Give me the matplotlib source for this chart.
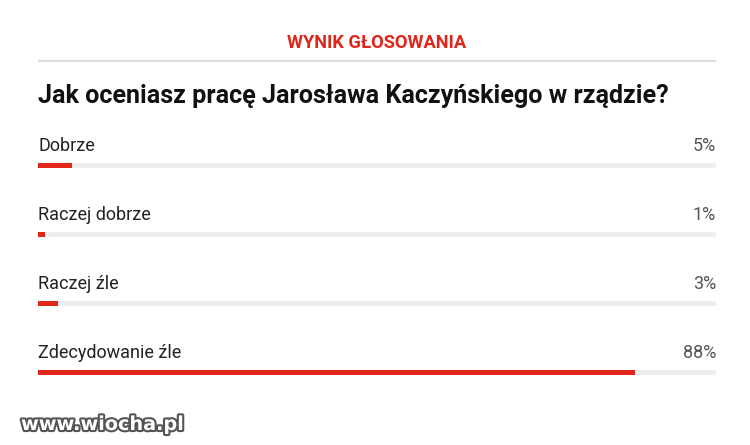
import matplotlib
matplotlib.use("Agg")
import matplotlib.pyplot as plt
import matplotlib.patheffects as pe

header = "WYNIK GŁOSOWANIA"
question = "Jak oceniasz pracę Jarosława Kaczyńskiego w rządzie?"
answers = ["Dobrze", "Raczej dobrze", "Raczej źle", "Zdecydowanie źle"]
percents = [5, 1, 3, 88]
watermark = "www.wiocha.pl"

W, H = 750, 445
fig = plt.figure(figsize=(7.5, 4.45), dpi=100)
fig.patch.set_facecolor("white")
renderer = fig.canvas.get_renderer()


def px(x, y):
    return x / W, 1 - y / H


def fit(t, width_px):
    # shrink a text so it spans width_px (the reference uses a condensed face)
    w = t.get_window_extent(renderer).width
    t.set_fontsize(t.get_fontsize() * width_px / w)


# bars: axes spans the track width, y in pixels from the top
ax = fig.add_axes([38 / W, 0, 678 / W, 1])
ax.set_xlim(0, 100)
ax.set_ylim(H, 0)
ax.axis("off")

red = "#df2619"
first_y, step = 165.5, 69
ys = [first_y + i * step for i in range(len(answers))]
ax.barh(ys, [100] * len(answers), height=5, color="#eeeeee")
ax.barh(ys, percents, height=5, color=red)
for y, name, p in zip(ys, answers, percents):
    ax.text(0, y - 14.5, name, fontsize=13, family="Roboto", color="#222222",
            va="baseline", ha="left")
    ax.text(100, y - 14.5, f"{p}%", fontsize=13, family="Roboto", color="#555555",
            va="baseline", ha="right")

# header and question
t = fig.text(*px(377, 47.5), header, fontsize=15, family="Roboto", weight="bold",
             color=red, ha="center", va="baseline")
fit(t, 180)
ax.plot([0, 100], [61, 61], color="#dddddd", lw=1.5)
t = fig.text(*px(38, 103), question, fontsize=21, family="Roboto", weight="bold",
             color="#111111", ha="left", va="baseline")
fit(t, 630)

# watermark
t = fig.text(*px(21, 430), watermark, fontsize=20, family="DejaVu Sans", weight="bold",
             color="white", ha="left", va="baseline",
             path_effects=[pe.withStroke(linewidth=3, foreground="#555555")])
fit(t, 163)

fig.savefig("out.png", dpi=100, facecolor="white")
